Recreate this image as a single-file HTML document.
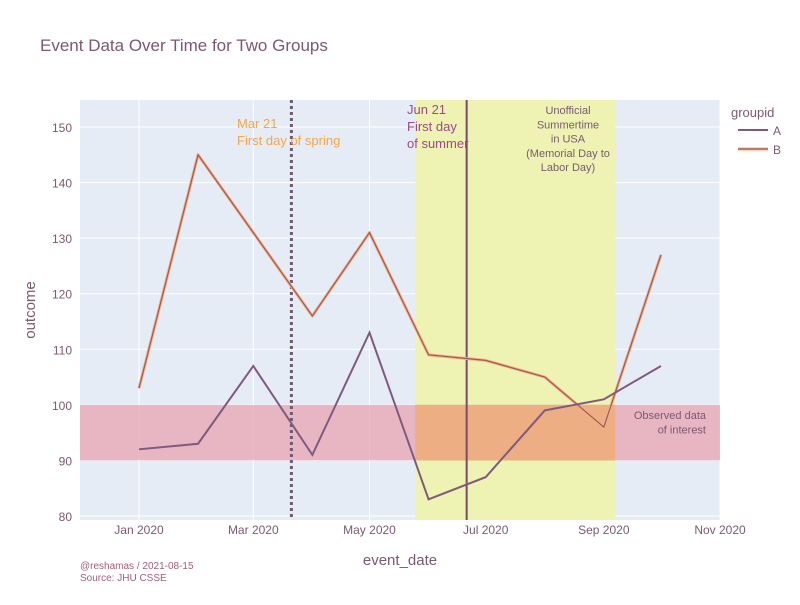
<!DOCTYPE html>
<html><head><meta charset="utf-8"><style>
body{margin:0;background:#fff;font-family:"Liberation Sans",sans-serif}
svg text{font-family:"Liberation Sans",sans-serif}
</style></head><body>
<svg id="chart" width="800" height="600" xmlns="http://www.w3.org/2000/svg">
<text x="40" y="51" font-size="17" fill="#7a5a72">Event Data Over Time for Two Groups</text>
<rect x="80" y="100" width="640" height="420" fill="#e5ecf6"/>
<g id="grid"></g>
<g id="shapes"></g>
<g id="series"></g>
<g id="axes"></g>
<text x="400" y="565" font-size="15" fill="#7a5a72" text-anchor="middle">event_date</text>
<text transform="translate(35,310) rotate(-90)" font-size="15" fill="#7a5a72" text-anchor="middle">outcome</text>
<text x="80" y="569" font-size="10" fill="#a0607a">@reshamas / 2021-08-15</text>
<text x="80" y="581" font-size="10" fill="#a0607a">Source: JHU CSSE</text>
<g>
<text x="731" y="117" font-size="13" fill="#7a5a72">groupid</text>
<g><line x1="738" y1="130" x2="768" y2="130" stroke="#7f5a7e" stroke-width="2"/><text x="773" y="135" font-size="12" fill="#7a5a72">A</text></g>
<g><line x1="738" y1="149" x2="768" y2="149" stroke="#f5b088" stroke-width="3"/><line x1="738" y1="149" x2="768" y2="149" stroke="#9c5a55" stroke-width="1.2"/><text x="773" y="154" font-size="12" fill="#7a5a72">B</text></g>
</g>
</svg>
<script>
const dates=["2020-01-01","2020-02-01","2020-03-01","2020-04-01","2020-05-01","2020-06-01","2020-07-01","2020-08-01","2020-09-01","2020-10-01"];
const seriesA=[92,93,107,91,113,83,87,99,101,107];
const seriesB=[103,145,131,116,131,109,108,105,96,127];
const xTicks=["2020-01-01","2020-03-01","2020-05-01","2020-07-01","2020-09-01","2020-11-01"];
const xTickLabels=["Jan 2020","Mar 2020","May 2020","Jul 2020","Sep 2020","Nov 2020"];
const yTicks=[80,90,100,110,120,130,140,150];
const ns="http://www.w3.org/2000/svg";
const d0=Date.parse("2020-01-01"), day=86400000;
function X(d){return 139+(Date.parse(d)-d0)/day*1.905;}
function Y(v){return 516-(v-80)*5.557;}
function mk(tag,attrs,parent){const e=document.createElementNS(ns,tag);for(const k in attrs)e.setAttribute(k,attrs[k]);document.getElementById(parent).appendChild(e);return e;}
yTicks.forEach(v=>{
 const l=mk("line",{x1:80,x2:720,y1:Y(v),y2:Y(v),stroke:"#fff","stroke-width":1},"grid");
 
 
 const t=mk("text",{x:72,y:Y(v)+5,"font-size":12,fill:"#7a5a72","text-anchor":"end"},"axes");t.textContent=v;
 
 
});
xTicks.forEach((d,i)=>{
 const l=mk("line",{x1:X(d),x2:X(d),y1:100,y2:520,stroke:"#fff","stroke-width":1},"grid");
 
 
 const t=mk("text",{x:X(d),y:534,"font-size":12,fill:"#7a5a72","text-anchor":"middle"},"axes");t.textContent=xTickLabels[i];
 
 
});
let s=mk("rect",{x:X("2020-05-25"),y:100,width:X("2020-09-07")-X("2020-05-25"),height:420,fill:"#eef2b2"},"shapes");


s=mk("rect",{x:80,y:Y(100),width:640,height:Y(90)-Y(100),fill:"#e7a4b0","fill-opacity":0.75},"shapes");


s=mk("rect",{x:X("2020-05-25"),y:Y(100),width:X("2020-09-07")-X("2020-05-25"),height:Y(90)-Y(100),fill:"#ecae82"},"shapes");


s=mk("line",{x1:X("2020-03-21"),x2:X("2020-03-21"),y1:100,y2:520,stroke:"#6e5a72","stroke-width":3,"stroke-dasharray":"3,3"},"shapes");


s=mk("line",{x1:X("2020-06-21"),x2:X("2020-06-21"),y1:100,y2:520,stroke:"#7a4a6e","stroke-width":2},"shapes");


function txt(lines,x,y,color,anchor,size,name){const t=mk("text",{x:x,y:y,"font-size":size,fill:color,"text-anchor":anchor},"shapes");
 lines.forEach((ln,i)=>{const ts=document.createElementNS(ns,"tspan");ts.setAttribute("x",x);ts.setAttribute("dy",i?size*1.3:0);ts.textContent=ln;t.appendChild(ts);});
 
 }
txt(["Mar 21","First day of spring"],237,128,"#f5a54a","start",13,"spring-annotation");
txt(["Jun 21","First day","of summer"],407,114,"#9a4a8a","start",13,"summer-annotation");
txt(["Unofficial","Summertime","in USA","(Memorial Day to","Labor Day)"],568,114,"#7a5a72","middle",11,"summertime-annotation");
txt(["Observed data","of interest"],706,419,"#7a5a72","end",11,"interest-annotation");
function pts(arr){return arr.map((v,i)=>X(dates[i])+","+Y(v)).join(" ");}
let p=mk("polyline",{points:pts(seriesB),fill:"none",stroke:"#f5b088","stroke-width":3,"stroke-linejoin":"round"},"series");


p=mk("polyline",{points:pts(seriesB),fill:"none",stroke:"#9c5a55","stroke-width":1.2},"series");


p=mk("polyline",{points:pts(seriesA),fill:"none",stroke:"#7f5a7e","stroke-width":2},"series");


</script>
</body></html>
